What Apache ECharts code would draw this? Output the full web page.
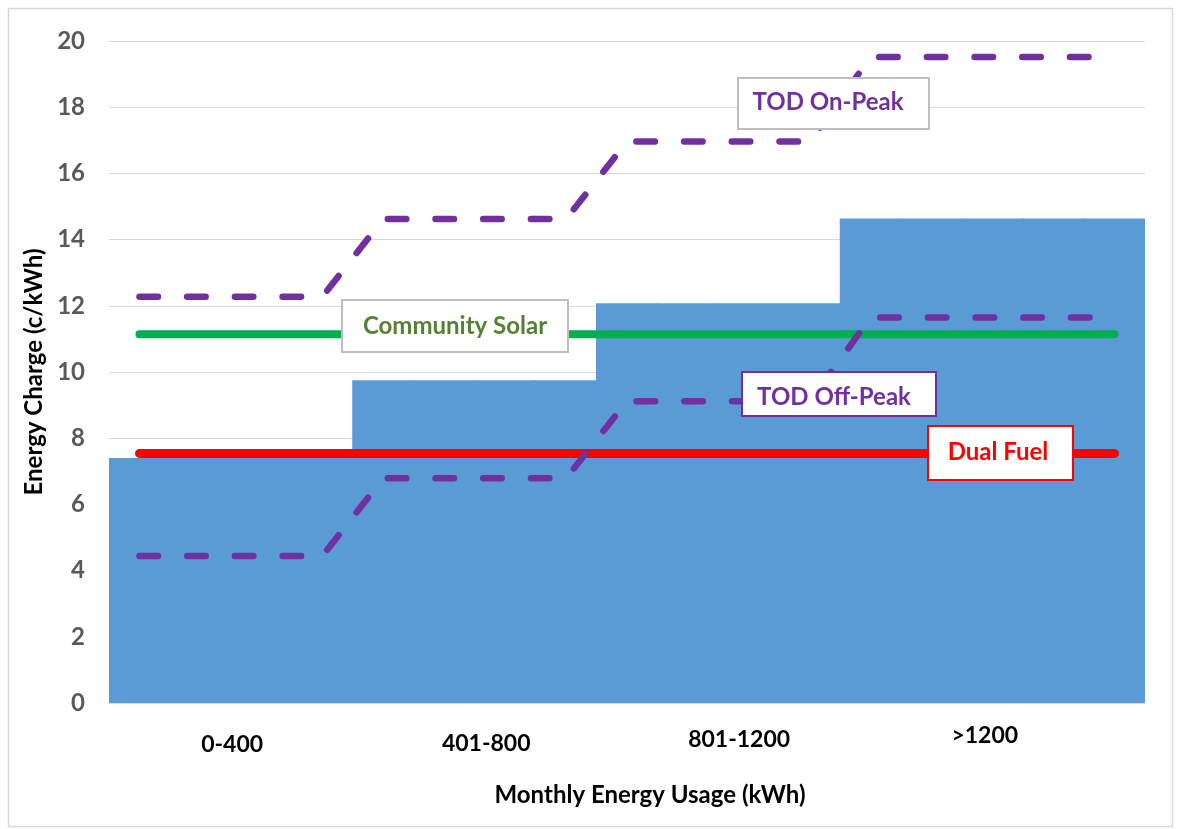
<!DOCTYPE html>
<html>
<head>
<meta charset="utf-8">
<script src="https://cdn.jsdelivr.net/npm/echarts@6/dist/echarts.min.js"></script>
<style>html,body{margin:0;padding:0;background:#fff;}#c{width:1178px;height:829px;}</style>
</head>
<body>
<div id="c"></div>
<script>
// Usage points along the x axis (kWh)
const usagePoints = ['100','200','300','400','500','600','700','800','900','1000','1100','1200','1300','1400','1500','1600','1700'];
// Tier labels
const tierLabels = ['0-400','401-800','801-1200','>1200'];
// Standard tiered energy charge (c/kWh) per usage point
const tieredRate = [7.40,7.40,7.40,7.40, 9.75,9.75,9.75,9.75, 12.08,12.08,12.08,12.08, 14.64,14.64,14.64,14.64,14.64];
// TOD On-Peak (c/kWh)
const todOnPeak = [12.27,12.27,12.27,12.27, 14.62,14.62,14.62,14.62, 16.96,16.96,16.96,16.96, 19.52,19.52,19.52,19.52,19.52];
// TOD Off-Peak (c/kWh)
const todOffPeak = [4.44,4.44,4.44,4.44, 6.79,6.79,6.79,6.79, 9.12,9.12,9.12,9.12, 11.65,11.65,11.65,11.65,11.65];
// Community Solar (c/kWh)
const communitySolar = [11.14,11.14,11.14,11.14,11.14,11.14,11.14,11.14,11.14,11.14,11.14,11.14,11.14,11.14,11.14,11.14,11.14];
// Dual Fuel (c/kWh)
const dualFuel = [7.54,7.54,7.54,7.54,7.54,7.54,7.54,7.54,7.54,7.54,7.54,7.54,7.54,7.54,7.54,7.54,7.54];

const FONT = 'Lato, "Open Sans", sans-serif';
const PURPLE = '#7030a0';

const chart = echarts.init(document.getElementById('c'), null, {renderer: 'canvas'});

function box(x, y, w, h, stroke, text, color, tx, ty) {
  return [
    {type: 'rect', z: 100, silent: true, shape: {x: x, y: y, width: w, height: h}, style: {fill: '#fff', stroke: stroke, lineWidth: 2}},
    {type: 'text', z: 101, silent: true, x: tx, y: ty, style: {text: text, fill: color, font: 'bold 24px ' + FONT, align: 'center', verticalAlign: 'middle'}}
  ];
}

const labelPos = [2.02, 6.19, 10.34, 14.37];

const option = {
  animation: false,
  backgroundColor: '#fff',
  grid: {left: 109, right: 33, top: 41, bottom: 126},
  xAxis: [
    {
      type: 'category', data: usagePoints, boundaryGap: true,
      axisLine: {show: true, lineStyle: {color: '#d9d9d9'}}, axisTick: {show: false}, axisLabel: {show: false}, splitLine: {show: false}
    },
    {
      type: 'value', min: 0, max: 17, position: 'bottom',
      axisLine: {show: false}, axisTick: {show: false}, splitLine: {show: false},
      axisLabel: {
        customValues: labelPos,
        margin: 20,
        formatter: function (v) {
          const i = labelPos.indexOf(v);
          return i < 0 ? '' : '{t' + i + '|' + tierLabels[i] + '}';
        },
        rich: {
          t0: {padding: [10, 0, 0, 0], fontSize: 23, fontWeight: 'bold', color: '#000', fontFamily: FONT},
          t1: {padding: [9, 0, 0, 0], fontSize: 23, fontWeight: 'bold', color: '#000', fontFamily: FONT},
          t2: {padding: [5, 0, 0, 0], fontSize: 23, fontWeight: 'bold', color: '#000', fontFamily: FONT},
          t3: {padding: [1, 0, 0, 0], fontSize: 23, fontWeight: 'bold', color: '#000', fontFamily: FONT}
        }
      },
      name: 'Monthly Energy Usage (kWh)', nameLocation: 'middle', nameGap: 80,
      nameTextStyle: {fontSize: 24, fontWeight: 'bold', color: '#000', fontFamily: FONT, padding: [0, 0, 0, 46]}
    }
  ],
  yAxis: {
    type: 'value', min: 0, max: 20, interval: 2,
    axisLine: {show: false}, axisTick: {show: false},
    axisLabel: {fontSize: 24, fontWeight: 'bold', color: '#595959', margin: 24, fontFamily: FONT},
    splitLine: {lineStyle: {color: '#d9d9d9', width: 1}},
    name: 'Energy Charge (c/kWh)', nameLocation: 'middle', nameGap: 56, nameRotate: 90,
    nameTextStyle: {fontSize: 24, fontWeight: 'bold', color: '#000', fontFamily: FONT}
  },
  series: [
    {
      type: 'bar', name: 'Tiered', data: tieredRate, xAxisIndex: 0,
      barWidth: 62, barGap: '-100%',
      itemStyle: {color: '#5b9bd5'}
    },
    {
      type: 'line', name: 'Community Solar', data: communitySolar, xAxisIndex: 0, symbol: 'none', z: 3,
      lineStyle: {color: '#00b050', width: 8, cap: 'round'}
    },
    {
      type: 'line', name: 'Dual Fuel', data: dualFuel, xAxisIndex: 0, symbol: 'none', z: 3,
      lineStyle: {color: '#ff0000', width: 9, cap: 'round'}
    },
    {
      type: 'line', name: 'TOD On-Peak', data: todOnPeak, xAxisIndex: 0, symbol: 'none', z: 4,
      lineStyle: {color: PURPLE, width: 6.5, type: [18.5, 29.2], cap: 'round', join: 'round'}
    },
    {
      type: 'line', name: 'TOD Off-Peak', data: todOffPeak, xAxisIndex: 0, symbol: 'none', z: 4,
      lineStyle: {color: PURPLE, width: 6.5, type: [18.5, 29.2], cap: 'round', join: 'round'}
    }
  ],
  graphic: [].concat(
    [{type: 'rect', z: 0, silent: true, shape: {x: 8.5, y: 8.5, width: 1164, height: 818}, style: {fill: 'none', stroke: '#d9d9d9', lineWidth: 1.5}}],
    box(342, 300, 226, 52, '#bfbfbf', 'Community Solar', '#548235', 455, 326),
    box(738, 78, 191, 51, '#bfbfbf', 'TOD On-Peak', PURPLE, 828, 102),
    box(742, 372, 194, 44, PURPLE, 'TOD Off-Peak', PURPLE, 834, 397),
    box(928, 426, 145, 54, '#ff0000', 'Dual Fuel', '#ff0000', 998, 452)
  )
};
chart.setOption(option);
</script>
</body>
</html>
